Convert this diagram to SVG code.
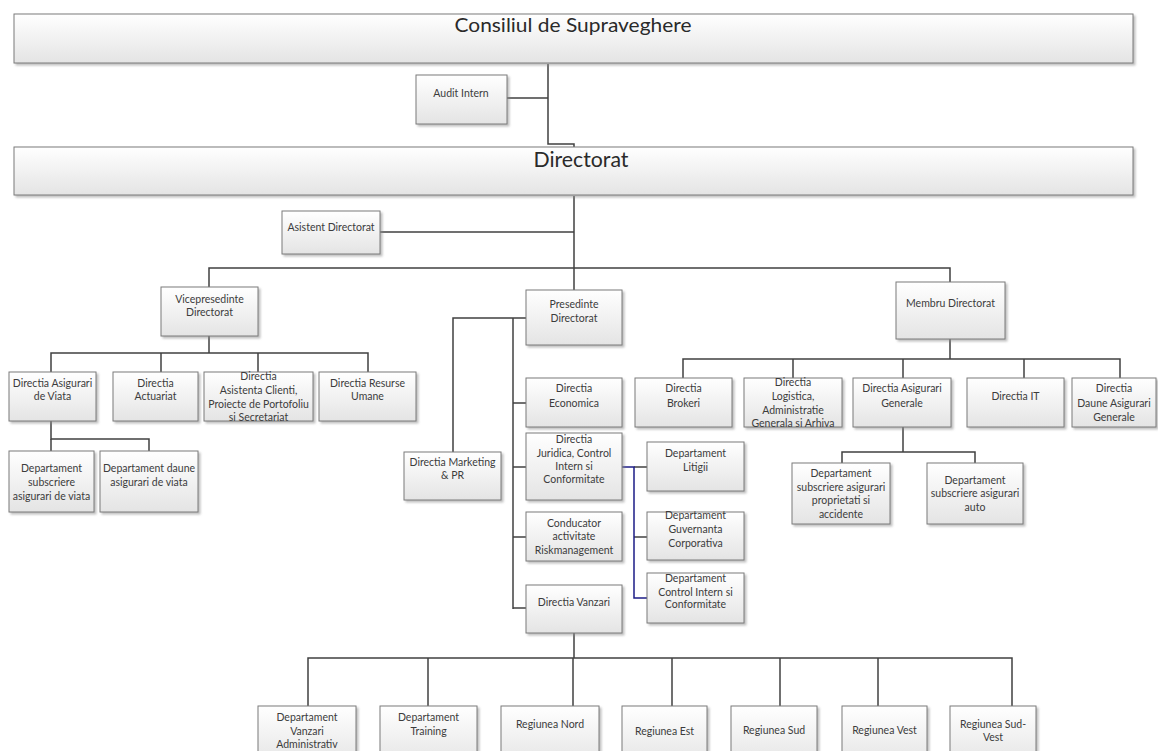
<svg xmlns="http://www.w3.org/2000/svg" width="1158" height="751" viewBox="0 0 1158 751">
<defs>
<linearGradient id="g" x1="0" y1="0" x2="0" y2="1">
<stop offset="0" stop-color="#ffffff"/>
<stop offset="1" stop-color="#e4e4e4"/>
</linearGradient>
<filter id="sh" x="-10%" y="-10%" width="130%" height="140%">
<feDropShadow dx="2" dy="2" stdDeviation="1.2" flood-color="#8a8a8a" flood-opacity="0.55"/>
</filter>
</defs>
<style>
.b{fill:url(#g);stroke:#7b7b7b;stroke-width:1;filter:url(#sh)}
.t{font-family:Lato,"Liberation Sans",sans-serif;font-size:10.5px;fill:#3c3c3c;text-anchor:middle}
.big{font-family:Lato,"Liberation Sans",sans-serif;fill:#2a2a2a;text-anchor:middle}
.c{fill:none;stroke:#404040;stroke-width:1.5}
.blue{fill:none;stroke:#1c1c86;stroke-width:1.5}
</style>
<rect width="1158" height="751" fill="#ffffff"/>

<g id="connectors">
<path class="c" d="M548,64 V144 H574 V147"/>
<path class="c" d="M507,98 H548"/>
<path class="c" d="M574,196 V290"/>
<path class="c" d="M380,232 H574"/>
<path class="c" d="M209,287 V268 H950 V282"/>
<path class="c" d="M209,336 V353"/>
<path class="c" d="M51,372 V353 H368 V372"/>
<path class="c" d="M161,353 V372"/>
<path class="c" d="M258,353 V372"/>
<path class="c" d="M51,421 V439 H149 V451"/>
<path class="c" d="M51,439 V451"/>
<path class="c" d="M526,318 H453 V452"/>
<path class="c" d="M513,318 V609"/>
<path class="c" d="M513,403 H526"/>
<path class="c" d="M513,467 H526"/>
<path class="c" d="M513,537 H526"/>
<path class="c" d="M513,608 H526"/>
<path class="c" d="M634,467 H647"/>
<path class="c" d="M634,537 H647"/>
<path class="blue" d="M622,467 H634 V598 H647"/>
<path class="c" d="M950,339 V359"/>
<path class="c" d="M683,378 V359 H1120 V378"/>
<path class="c" d="M793,359 V378"/>
<path class="c" d="M903,359 V378"/>
<path class="c" d="M1024,359 V378"/>
<path class="c" d="M903,427 V452"/>
<path class="c" d="M842,463 V452 H975 V463"/>
<path class="c" d="M574,633 V658"/>
<path class="c" d="M308,706 V658 H1012 V706"/>
<path class="c" d="M428,658 V706"/>
<path class="c" d="M573,658 V706"/>
<path class="c" d="M672,658 V706"/>
<path class="c" d="M780,658 V706"/>
<path class="c" d="M878,658 V706"/>
</g>

<g id="consiliul"><rect class="b" x="14" y="14" width="1119" height="49"/><text class="big" x="573" y="32" font-size="20" textLength="237" lengthAdjust="spacingAndGlyphs">Consiliul de Supraveghere</text></g>
<g id="audit"><rect class="b" x="416" y="75" width="91" height="49"/><text class="t" x="461" y="97" font-size="9.5">Audit Intern</text></g>
<g id="directorat"><rect class="b" x="14" y="147" width="1119" height="48"/><text class="big" x="581" y="167" font-size="21" textLength="95" lengthAdjust="spacingAndGlyphs">Directorat</text></g>
<g id="asistent"><rect class="b" x="282" y="211" width="98" height="43"/><text class="t" x="331" y="231">Asistent Directorat</text></g>
<g id="vice"><rect class="b" x="161" y="287" width="97" height="49"/><text class="t" x="209.5" y="302.5">Vicepresedinte</text><text class="t" x="209.5" y="316">Directorat</text></g>
<g id="presedinte"><rect class="b" x="526" y="290" width="96" height="55"/><text class="t" x="574" y="307.5">Presedinte</text><text class="t" x="574" y="321.5">Directorat</text></g>
<g id="membru"><rect class="b" x="896" y="282" width="109" height="57"/><text class="t" x="950.5" y="306.5">Membru Directorat</text></g>

<g id="viata"><rect class="b" x="9" y="372" width="87" height="49"/><text class="t" x="52.5" y="386.5">Directia Asigurari</text><text class="t" x="52.5" y="400">de Viata</text></g>
<g id="actuariat"><rect class="b" x="113" y="372" width="85" height="49"/><text class="t" x="155.5" y="386.5">Directia</text><text class="t" x="155.5" y="400">Actuariat</text></g>
<g id="asistenta"><rect class="b" x="204" y="372" width="109" height="49"/><text class="t" x="258.5" y="380">Directia</text><text class="t" x="258.5" y="393.5">Asistenta Clienti,</text><text class="t" x="258.5" y="407.5">Proiecte de Portofoliu</text><text class="t" x="258.5" y="421">si Secretariat</text></g>
<g id="resurse"><rect class="b" x="319" y="372" width="97" height="49"/><text class="t" x="367.5" y="386.5">Directia Resurse</text><text class="t" x="367.5" y="400">Umane</text></g>
<g id="subscriere-viata"><rect class="b" x="9" y="451" width="85" height="61"/><text class="t" x="51.5" y="472">Departament</text><text class="t" x="51.5" y="485.5">subscriere</text><text class="t" x="51.5" y="499.5">asigurari de viata</text></g>
<g id="daune-viata"><rect class="b" x="100" y="451" width="98" height="61"/><text class="t" x="149" y="472">Departament daune</text><text class="t" x="149" y="485.5">asigurari de viata</text></g>

<g id="marketing"><rect class="b" x="404" y="452" width="97" height="48"/><text class="t" x="452.5" y="466">Directia Marketing</text><text class="t" x="452.5" y="479">&amp; PR</text></g>
<g id="economica"><rect class="b" x="526" y="378" width="96" height="49"/><text class="t" x="574" y="392">Directia</text><text class="t" x="574" y="406.5">Economica</text></g>
<g id="juridica"><rect class="b" x="526" y="433" width="96" height="67"/><text class="t" x="574" y="442.5">Directia</text><text class="t" x="574" y="456.5">Juridica, Control</text><text class="t" x="574" y="470">Intern si</text><text class="t" x="574" y="483">Conformitate</text></g>
<g id="risk"><rect class="b" x="526" y="512" width="96" height="49"/><text class="t" x="574" y="526.5">Conducator</text><text class="t" x="574" y="540">activitate</text><text class="t" x="574" y="553.5">Riskmanagement</text></g>
<g id="vanzari"><rect class="b" x="526" y="585" width="96" height="48"/><text class="t" x="574" y="605.5">Directia Vanzari</text></g>
<g id="litigii"><rect class="b" x="647" y="442" width="97" height="49"/><text class="t" x="695.5" y="456.5">Departament</text><text class="t" x="695.5" y="471">Litigii</text></g>
<g id="guvernanta"><rect class="b" x="647" y="512" width="97" height="48"/><text class="t" x="695.5" y="518.5">Departament</text><text class="t" x="695.5" y="532.5">Guvernanta</text><text class="t" x="695.5" y="546.5">Corporativa</text></g>
<g id="control-intern"><rect class="b" x="647" y="573" width="97" height="50"/><text class="t" x="695.5" y="581.5">Departament</text><text class="t" x="695.5" y="595.5">Control Intern si</text><text class="t" x="695.5" y="608">Conformitate</text></g>

<g id="brokeri"><rect class="b" x="635" y="378" width="97" height="49"/><text class="t" x="683.5" y="392">Directia</text><text class="t" x="683.5" y="406.5">Brokeri</text></g>
<g id="logistica"><rect class="b" x="744" y="378" width="98" height="49"/><text class="t" x="793" y="385.5">Directia</text><text class="t" x="793" y="399.5">Logistica,</text><text class="t" x="793" y="413.5">Administratie</text><text class="t" x="793" y="427">Generala si Arhiva</text></g>
<g id="asigurari-generale"><rect class="b" x="853" y="378" width="98" height="49"/><text class="t" x="902" y="392">Directia Asigurari</text><text class="t" x="902" y="406.5">Generale</text></g>
<g id="it"><rect class="b" x="967" y="378" width="97" height="49"/><text class="t" x="1015.5" y="399.5">Directia IT</text></g>
<g id="daune-generale"><rect class="b" x="1072" y="378" width="84" height="49"/><text class="t" x="1114" y="392">Directia</text><text class="t" x="1114" y="406.5">Daune Asigurari</text><text class="t" x="1114" y="420.5">Generale</text></g>
<g id="proprietati"><rect class="b" x="792" y="463" width="98" height="61"/><text class="t" x="841" y="476.5">Departament</text><text class="t" x="841" y="490.5">subscriere asigurari</text><text class="t" x="841" y="504">proprietati si</text><text class="t" x="841" y="517.5">accidente</text></g>
<g id="auto"><rect class="b" x="927" y="463" width="96" height="61"/><text class="t" x="975" y="483.5">Departament</text><text class="t" x="975" y="497">subscriere asigurari</text><text class="t" x="975" y="511">auto</text></g>

<g id="vanzari-administrativ"><rect class="b" x="258" y="706" width="98" height="60"/><text class="t" x="307" y="720.5">Departament</text><text class="t" x="307" y="734.5">Vanzari</text><text class="t" x="307" y="748">Administrativ</text></g>
<g id="training"><rect class="b" x="380" y="706" width="97" height="60"/><text class="t" x="428.5" y="720.5">Departament</text><text class="t" x="428.5" y="734.5">Training</text></g>
<g id="nord"><rect class="b" x="501" y="706" width="98" height="60"/><text class="t" x="550" y="727.5">Regiunea Nord</text></g>
<g id="est"><rect class="b" x="622" y="706" width="85" height="60"/><text class="t" x="664.5" y="734.5">Regiunea Est</text></g>
<g id="sud"><rect class="b" x="731" y="706" width="86" height="60"/><text class="t" x="774" y="733.5">Regiunea Sud</text></g>
<g id="vest"><rect class="b" x="842" y="706" width="85" height="60"/><text class="t" x="884.5" y="733.5">Regiunea Vest</text></g>
<g id="sud-vest"><rect class="b" x="950" y="706" width="86" height="60"/><text class="t" x="993" y="727.5">Regiunea Sud-</text><text class="t" x="993" y="740.5">Vest</text></g>
</svg>
